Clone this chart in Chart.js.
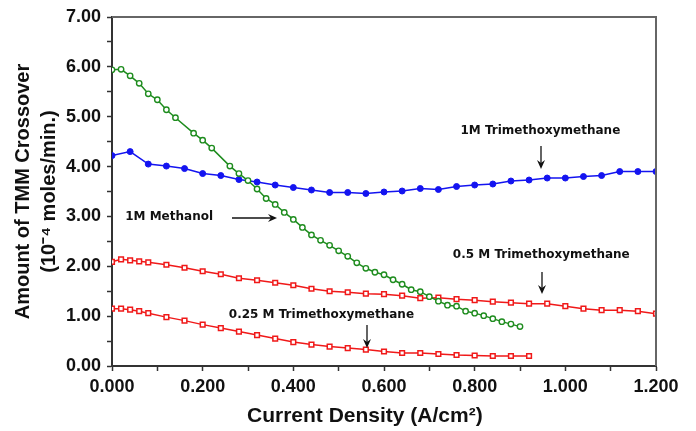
<!DOCTYPE html>
<html>
<head>
<meta charset="utf-8">
<script src="https://cdn.jsdelivr.net/npm/chart.js@4"></script>
<style>
  body { margin: 0; background: #fff; }
</style>
</head>
<body>
<canvas id="chart" width="696" height="431"></canvas>
<script>
// current density (A/cm2) and crossover values (10^-4 moles/min)
var methanolX = [0, 0.02, 0.04, 0.06, 0.08, 0.10, 0.12, 0.14, 0.18, 0.20, 0.22, 0.26, 0.28, 0.30, 0.32, 0.34, 0.36, 0.38, 0.40, 0.42,
  0.44, 0.46, 0.48, 0.50, 0.52, 0.54, 0.56, 0.58, 0.60, 0.62, 0.64, 0.66, 0.68, 0.70, 0.72, 0.74, 0.76, 0.78, 0.80, 0.82, 0.84, 0.86, 0.88, 0.90];
var methanolY = [5.94, 5.95, 5.82, 5.67, 5.46, 5.34, 5.14, 4.98, 4.67, 4.53, 4.37, 4.01, 3.86, 3.72, 3.55, 3.36, 3.24, 3.08, 2.94, 2.78,
  2.63, 2.52, 2.42, 2.31, 2.20, 2.07, 1.96, 1.88, 1.83, 1.73, 1.64, 1.53, 1.49, 1.39, 1.30, 1.22, 1.20, 1.10, 1.06, 1.01, 0.95, 0.89, 0.84, 0.79];

var tmm1X = [0, 0.04, 0.08, 0.12, 0.16, 0.20, 0.24, 0.28, 0.32, 0.36, 0.40, 0.44, 0.48, 0.52, 0.56, 0.60,
  0.64, 0.68, 0.72, 0.76, 0.80, 0.84, 0.88, 0.92, 0.96, 1.00, 1.04, 1.08, 1.12, 1.16, 1.20];
var tmm1Y = [4.22, 4.30, 4.05, 4.01, 3.96, 3.86, 3.82, 3.74, 3.69, 3.63, 3.58, 3.53, 3.48, 3.48, 3.46, 3.49,
  3.51, 3.56, 3.54, 3.60, 3.63, 3.65, 3.71, 3.73, 3.77, 3.77, 3.80, 3.82, 3.90, 3.90, 3.90];

var tmm05X = [0, 0.02, 0.04, 0.06, 0.08, 0.12, 0.16, 0.20, 0.24, 0.28, 0.32, 0.36, 0.40, 0.44, 0.48, 0.52, 0.56,
  0.60, 0.64, 0.68, 0.72, 0.76, 0.80, 0.84, 0.88, 0.92, 0.96, 1.00, 1.04, 1.08, 1.12, 1.16, 1.20];
var tmm05Y = [2.09, 2.14, 2.12, 2.10, 2.08, 2.03, 1.97, 1.90, 1.84, 1.76, 1.72, 1.67, 1.62, 1.55, 1.50, 1.48, 1.45,
  1.44, 1.41, 1.36, 1.37, 1.34, 1.32, 1.29, 1.27, 1.25, 1.25, 1.20, 1.15, 1.12, 1.12, 1.10, 1.05];

var tmm025X = [0, 0.02, 0.04, 0.06, 0.08, 0.12, 0.16, 0.20, 0.24, 0.28, 0.32, 0.36, 0.40, 0.44, 0.48, 0.52, 0.56,
  0.60, 0.64, 0.68, 0.72, 0.76, 0.80, 0.84, 0.88, 0.92];
var tmm025Y = [1.15, 1.15, 1.13, 1.10, 1.06, 0.98, 0.91, 0.83, 0.76, 0.69, 0.62, 0.55, 0.48, 0.43, 0.39, 0.36, 0.33,
  0.29, 0.26, 0.26, 0.24, 0.22, 0.21, 0.20, 0.20, 0.20];

// labels placed on the plot, in data units
var noteText = ['1M Trimethoxymethane', '0.5 M Trimethoxymethane', '0.25 M Trimethoxymethane', '1M Methanol'];
var noteX = [0.945, 0.947, 0.462, 0.124];
var noteY = [4.71, 2.22, 1.02, 2.99];

var xTitle = 'Current Density (A/cm²)';

function pts(xs, ys) {
  return xs.map(function (x, i) { return { x: x, y: ys[i] }; });
}

var GREEN = 'rgb(30,140,30)';
var BLUE = 'rgb(20,20,240)';
var RED = 'rgb(240,25,25)';

var extras = {
  id: 'extras',
  afterDraw: function (chart) {
    var ctx = chart.ctx, a = chart.chartArea;
    var xs = chart.scales.x, ys = chart.scales.y;
    ctx.save();
    // top and right frame
    ctx.strokeStyle = '#666';
    ctx.lineWidth = 2;
    ctx.beginPath();
    ctx.moveTo(a.left, a.top);
    ctx.lineTo(a.right, a.top);
    ctx.lineTo(a.right, a.bottom);
    ctx.stroke();

    // x axis title, sits a bit left of centre in the original
    ctx.fillStyle = '#111';
    ctx.font = 'bold 21px "Liberation Sans"';
    ctx.textAlign = 'left';
    ctx.textBaseline = 'middle';
    ctx.fillText(xTitle, 247, 416);

    ctx.font = 'bold 12px "DejaVu Sans"';
    ctx.textAlign = 'center';
    for (var i = 0; i < noteText.length; i++) {
      var px = xs.getPixelForValue(noteX[i]);
      var py = ys.getPixelForValue(noteY[i]);
      if (i == 3) {
        ctx.textAlign = 'left';
        ctx.fillText(noteText[i], px - 43, py);
      } else {
        ctx.textAlign = 'center';
        ctx.fillText(noteText[i], px, py);
      }
    }
    // arrows
    ctx.strokeStyle = '#111';
    ctx.lineWidth = 1.3;
    function arrow(x1, y1, x2, y2) {
      var ang = Math.atan2(y2 - y1, x2 - x1);
      ctx.beginPath();
      ctx.moveTo(x1, y1);
      ctx.lineTo(x2 - 6 * Math.cos(ang), y2 - 6 * Math.sin(ang));
      ctx.stroke();
      ctx.beginPath();
      ctx.moveTo(x2, y2);
      ctx.lineTo(x2 - 9 * Math.cos(ang) + 4 * Math.sin(ang), y2 - 9 * Math.sin(ang) - 4 * Math.cos(ang));
      ctx.lineTo(x2 - 6 * Math.cos(ang), y2 - 6 * Math.sin(ang));
      ctx.lineTo(x2 - 9 * Math.cos(ang) - 4 * Math.sin(ang), y2 - 9 * Math.sin(ang) + 4 * Math.cos(ang));
      ctx.closePath();
      ctx.fill();
    }
    arrow(541, 146, 541, 169);
    arrow(542, 272, 542, 294);
    arrow(367, 325, 367, 348);
    arrow(232, 218, 277, 218);
    ctx.restore();
  }
};

new Chart(document.getElementById('chart'), {
  type: 'line',
  data: {
    datasets: [
      { data: pts(methanolX, methanolY), borderColor: GREEN, backgroundColor: '#fff', borderWidth: 1.5,
        pointStyle: 'circle', pointRadius: 2.7, pointBorderWidth: 1.4, pointBorderColor: GREEN },
      { data: pts(tmm1X, tmm1Y), borderColor: BLUE, backgroundColor: BLUE, borderWidth: 1.5,
        pointStyle: 'circle', pointRadius: 3, pointBorderWidth: 1, pointBorderColor: BLUE },
      { data: pts(tmm05X, tmm05Y), borderColor: RED, backgroundColor: '#fff', borderWidth: 1.5,
        pointStyle: 'rect', pointRadius: 3.3, pointBorderWidth: 1.5, pointBorderColor: RED },
      { data: pts(tmm025X, tmm025Y), borderColor: RED, backgroundColor: '#fff', borderWidth: 1.5,
        pointStyle: 'rect', pointRadius: 3.3, pointBorderWidth: 1.5, pointBorderColor: RED }
    ]
  },
  options: {
    responsive: false,
    animation: false,
    layout: { padding: { top: 17, right: 40, left: 0, bottom: 0 } },
    plugins: { legend: { display: false }, tooltip: { enabled: false } },
    scales: {
      x: {
        type: 'linear', min: 0, max: 1.2,
        afterFit: function (s) { s.height = 65; },
        afterBuildTicks: function (s) {
          var t = [];
          for (var i = 0; i <= 12; i++) t.push({ value: i / 10 });
          s.ticks = t;
        },
        grid: { drawOnChartArea: false, tickLength: 5, tickColor: '#333', tickWidth: 1.5 },
        border: { color: '#333', width: 2 },
        ticks: {
          color: '#111', font: { family: 'Liberation Sans', weight: 'bold', size: 18 }, padding: 5,
          maxRotation: 0, autoSkip: false,
          callback: function (v) { return Math.round(v * 10) % 2 == 0 ? v.toFixed(3) : ''; }
        },
        title: { display: false }
      },
      y: {
        type: 'linear', min: 0, max: 7,
        afterFit: function (s) { s.width = 112; },
        grid: { drawOnChartArea: false, tickLength: 5, tickColor: '#333', tickWidth: 1.5 },
        border: { color: '#333', width: 2 },
        ticks: {
          stepSize: 0.5, color: '#111', font: { family: 'Liberation Sans', weight: 'bold', size: 18 }, padding: 6,
          autoSkip: false,
          callback: function (v) { return Math.round(v * 2) % 2 == 0 ? v.toFixed(2) : ''; }
        },
        title: { display: true, text: ['Amount of TMM Crossover', '(10⁻⁴ moles/min.)'], color: '#111',
          font: { family: 'Liberation Sans', weight: 'bold', size: 20, lineHeight: 1.3 }, padding: { top: 10, bottom: 0 } }
      }
    }
  },
  plugins: [extras]
});
</script>
</body>
</html>
